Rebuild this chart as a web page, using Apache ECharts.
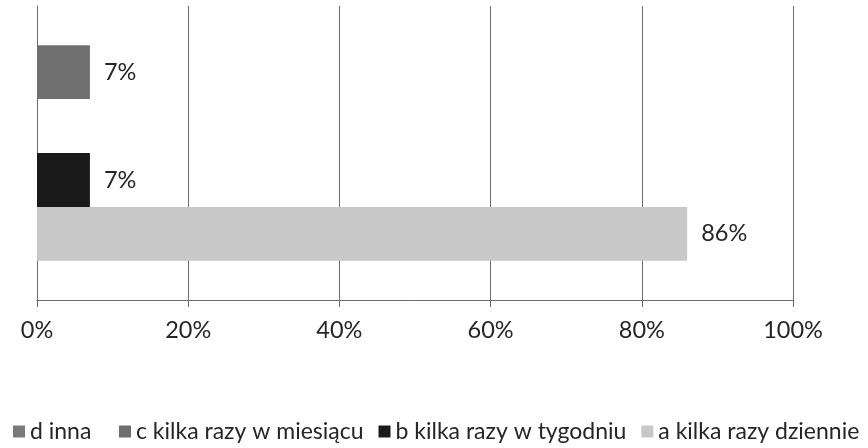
<!DOCTYPE html>
<html lang="pl">
  <head>
    <meta charset="UTF-8" />
    <title>Częstotliwość</title>
    <style>
      body { margin: 0; padding: 0; background: #fff; }
      #container { width: 868px; height: 448px; }
    </style>
  </head>
  <body>
    <div id="container"></div>
    <script src="https://cdn.jsdelivr.net/npm/echarts@6/dist/echarts.min.js"></script>
    <script>
      // dane
      const categories = [""];
      const seriesNames = ["d inna", "c kilka razy w miesiącu", "b kilka razy w tygodniu", "a kilka razy dziennie"];
      const seriesValues = {
        "d inna": [0],
        "c kilka razy w miesiącu": [7],
        "b kilka razy w tygodniu": [7],
        "a kilka razy dziennie": [86],
      };
      const seriesColors = {
        "d inna": "#7a7a7a",
        "c kilka razy w miesiącu": "#6f6f6f",
        "b kilka razy w tygodniu": "#1a1a1a",
        "a kilka razy dziennie": "#c8c8c8",
      };
      // kolejność słupków od góry
      const barOrder = ["c kilka razy w miesiącu", "d inna", "b kilka razy w tygodniu", "a kilka razy dziennie"];
      const xTicks = [0, 20, 40, 60, 80, 100];

      const font = "Lato, 'Open Sans', sans-serif";
      const chart = echarts.init(document.getElementById("container"));

      const legendText = { fontFamily: font, fontSize: 23, color: "#262626" };

      chart.setOption({
        animation: false,
        grid: { left: 37, right: 75, top: 6, bottom: 148, containLabel: false },
        legend: [
          {
            data: [seriesNames[0]],
            left: 8,
            top: 415,
            icon: "rect",
            itemWidth: 12,
            itemHeight: 12,
            itemGap: 15,
            textStyle: legendText,
          },
          {
            data: seriesNames.slice(1),
            left: 114,
            top: 415,
            icon: "rect",
            itemWidth: 12,
            itemHeight: 12,
            itemGap: 15,
            textStyle: legendText,
          },
        ],
        xAxis: {
          type: "value",
          min: xTicks[0],
          max: xTicks[xTicks.length - 1],
          interval: 20,
          axisLine: { show: true, lineStyle: { color: "#6b6b6b", width: 1 } },
          axisTick: { show: true, length: 7, lineStyle: { color: "#6b6b6b" } },
          splitLine: { show: true, lineStyle: { color: "#6b6b6b", width: 1 } },
          axisLabel: {
            formatter: "{value}%",
            fontFamily: font,
            fontSize: 23.5,
            color: "#262626",
            margin: 18,
          },
        },
        yAxis: {
          type: "category",
          data: categories,
          axisLine: { show: true, lineStyle: { color: "#6b6b6b", width: 1 } },
          axisTick: { show: false },
          axisLabel: { show: false },
        },
        series: barOrder.map((name) => ({
          name: name,
          type: "bar",
          data: seriesValues[name],
          barGap: "0%",
          barCategoryGap: "26.7%",
          itemStyle: { color: seriesColors[name] },
          label: {
            show: seriesValues[name][0] > 0,
            position: "right",
            distance: 14,
            formatter: "{c}%",
            fontFamily: font,
            fontSize: 23.5,
            color: "#262626",
          },
        })),
      });
    </script>
  </body>
</html>
